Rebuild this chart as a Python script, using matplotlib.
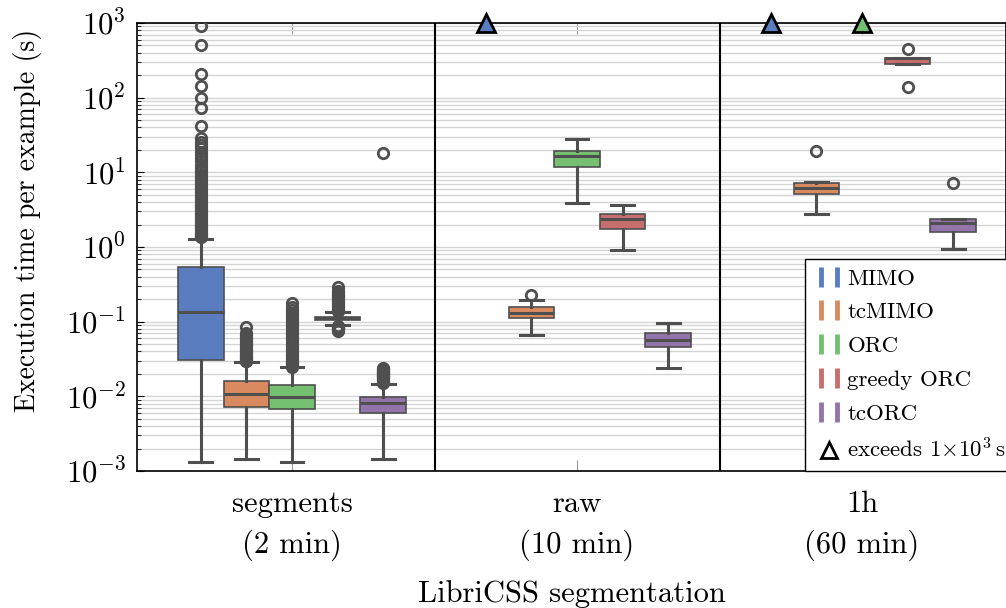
import numpy as np
import matplotlib.pyplot as plt
import seaborn as sns
from matplotlib.lines import Line2D
from matplotlib.legend_handler import HandlerLine2D
from matplotlib.ticker import LogLocator, NullFormatter, LogFormatterMathtext

plt.rcParams['font.family'] = 'cmr10'
plt.rcParams['mathtext.fontset'] = 'cm'
plt.rcParams['axes.formatter.use_mathtext'] = True

groups = ["segments\n(2 min)", "raw\n(10 min)", "1h\n(60 min)"]
methods = ["MIMO", "tcMIMO", "ORC", "greedy ORC", "tcORC"]

# (whislo, q1, med, q3, whishi) per group; None = run exceeds 1e3 s
mimo = [(0.00133, 0.031, 0.134, 0.535, 1.29), None, None]
tcmimo = [(0.00146, 0.00727, 0.01075, 0.0159, 0.0286),
          (0.0663, 0.111, 0.1318, 0.1556, 0.195),
          (2.74, 5.13, 6.11, 7.27, 7.5)]
orc = [(0.00132, 0.00671, 0.00989, 0.01406, 0.0245),
       (3.92, 11.7, 16.6, 19.5, 28.0),
       None]
greedy = [(0.0903, 0.1042, 0.111, 0.1167, 0.1336),
          (0.903, 1.73, 2.35, 2.77, 3.65),
          (285, 285, 336, 336, 336)]
tcorc = [(0.00144, 0.00604, 0.00815, 0.0097, 0.0148),
         (0.024, 0.0462, 0.0574, 0.0713, 0.0951),
         (0.93, 1.60, 2.08, 2.35, 2.39)]

# outliers
mimo_fl = [[1.35, 1.4, 1.45, 1.5, 1.55, 1.6, 1.7, 1.8, 1.9, 2.0, 2.1, 2.2, 2.4,
            2.6, 2.8, 3.0, 3.2, 3.5, 3.8, 4.1, 4.5, 4.9, 5.4, 5.9, 6.5, 7.1,
            7.8, 8.6, 9.5, 10.5, 11.5, 12.5, 14, 15.5, 17, 19, 21, 23, 25.5,
            29.1, 41.8, 73, 100, 145, 206, 507, 910], [], []]
tcmimo_fl = [[0.0295, 0.03, 0.031, 0.032, 0.033, 0.034, 0.035, 0.036, 0.037,
              0.038, 0.04, 0.041, 0.043, 0.045, 0.047, 0.049, 0.051, 0.053,
              0.055, 0.058, 0.06, 0.063, 0.066, 0.07, 0.0857], [0.2276], [19.5]]
orc_fl = [[0.025, 0.026, 0.027, 0.028, 0.029, 0.03, 0.032, 0.034, 0.036,
           0.038, 0.04, 0.042, 0.045, 0.048, 0.051, 0.055, 0.059, 0.063,
           0.068, 0.073, 0.078, 0.084, 0.09, 0.097, 0.105, 0.113, 0.122,
           0.132, 0.143, 0.155, 0.176], [], []]
greedy_fl = [[0.075, 0.077, 0.079, 0.081, 0.083, 0.085, 0.087,
              0.137, 0.14, 0.145, 0.15, 0.155, 0.16, 0.17, 0.18, 0.19, 0.2,
              0.21, 0.22, 0.23, 0.242, 0.26, 0.294], [], [449, 140]]
tcorc_fl = [[0.0152, 0.0156, 0.016, 0.0165, 0.017, 0.0175, 0.018, 0.0185,
             0.019, 0.0195, 0.02, 0.0205, 0.021, 0.0215, 0.022, 0.0225, 0.023,
             0.0238, 18.0], [], [7.2]]

all_stats = [mimo, tcmimo, orc, greedy, tcorc]
all_fl = [mimo_fl, tcmimo_fl, orc_fl, greedy_fl, tcorc_fl]

colors = [sns.desaturate(c, 0.75) for c in sns.color_palette("muted", 5)]
line_c = "#4f4f4f"
width = 0.16
offsets = (np.arange(5) - 2) * width

fig = plt.figure(figsize=(10.06, 6.08), dpi=100)
ax = fig.add_axes([137 / 1006, 137 / 608, 869 / 1006, 448 / 608])
ax.set_yscale('log')

for h, (stats, fls) in enumerate(zip(all_stats, all_fl)):
    for g in range(3):
        x = g + offsets[h]
        if stats[g] is None:
            ax.plot(x, 1000, marker='^', ms=13, mfc=colors[h], mec='black',
                    mew=2, clip_on=False, zorder=6)
            continue
        lo, a, m, b, hi = stats[g]
        st = dict(whislo=lo, q1=a, med=m, q3=b, whishi=hi, fliers=fls[g])
        res = ax.bxp([st], positions=[x], widths=width, patch_artist=True,
                     manage_ticks=False,
                     boxprops=dict(facecolor=colors[h], edgecolor=line_c, lw=1.2),
                     whiskerprops=dict(color=line_c, lw=2.2),
                     capprops=dict(color=line_c, lw=2.2),
                     medianprops=dict(color=line_c, lw=2.2),
                     flierprops=dict(marker='o', ms=7.5, mfc='none',
                                     mec=line_c, mew=2))
        for art in res['boxes'] + res['whiskers'] + res['caps'] + res['medians'] + res['fliers']:
            art.set_zorder(3)

for xs in (0.5, 1.5):
    ax.axvline(xs, color='black', lw=1.5, zorder=4)

ax.set_xlim(-0.544, 2.505)
ax.set_ylim(1e-3, 1e3)
ax.yaxis.set_major_locator(LogLocator(base=10, numticks=10))
ax.yaxis.set_major_formatter(LogFormatterMathtext())
ax.yaxis.set_minor_locator(LogLocator(base=10, subs=np.arange(2, 10), numticks=20))
ax.yaxis.set_minor_formatter(NullFormatter())
ax.yaxis.grid(True, which='both', color='#d4d4d4', lw=1.0)
ax.set_axisbelow(True)
ax.tick_params(axis='y', which='major', direction='in', length=5, width=0.8,
               labelsize=22, pad=8)
ax.tick_params(axis='y', which='minor', direction='in', length=3, width=0.6)
ax.set_xticks(range(3))
ax.set_xticklabels(groups, fontsize=22, linespacing=1.5)
ax.tick_params(axis='x', direction='in', top=True, length=8, width=0.8,
               color='#999999', pad=14)
for s in ax.spines.values():
    s.set_color('black')
    s.set_linewidth(1.2)

ax.set_xlabel("LibriCSS segmentation", fontsize=22, labelpad=14)
fig.text(28 / 1006, 1 - 220 / 608, "Execution time per example (s)",
         rotation=90, ha='center', va='center', fontsize=20)

handles = [Line2D([0], [0], marker='|', ls='None', ms=15, mew=3.5, color=c)
           for c in colors]
tri = Line2D([0], [0], marker='^', ls='None', ms=12, mfc='white', mec='black', mew=2)
labels = methods + [r"exceeds $1{\times}10^3\,$s"]
leg = ax.legend(handles + [tri], labels, loc='lower left',
                bbox_to_anchor=((805 - 137) / 869, 0), borderaxespad=0,
                numpoints=2, handler_map={tri: HandlerLine2D(numpoints=1)},
                fontsize=16.5, handlelength=1.3, handletextpad=0.15,
                labelspacing=0.6, borderpad=0.4, fancybox=False,
                edgecolor='black', framealpha=1)
leg.get_frame().set_linewidth(1.0)
leg.set_zorder(7)

fig.savefig("out.png", dpi=100)
